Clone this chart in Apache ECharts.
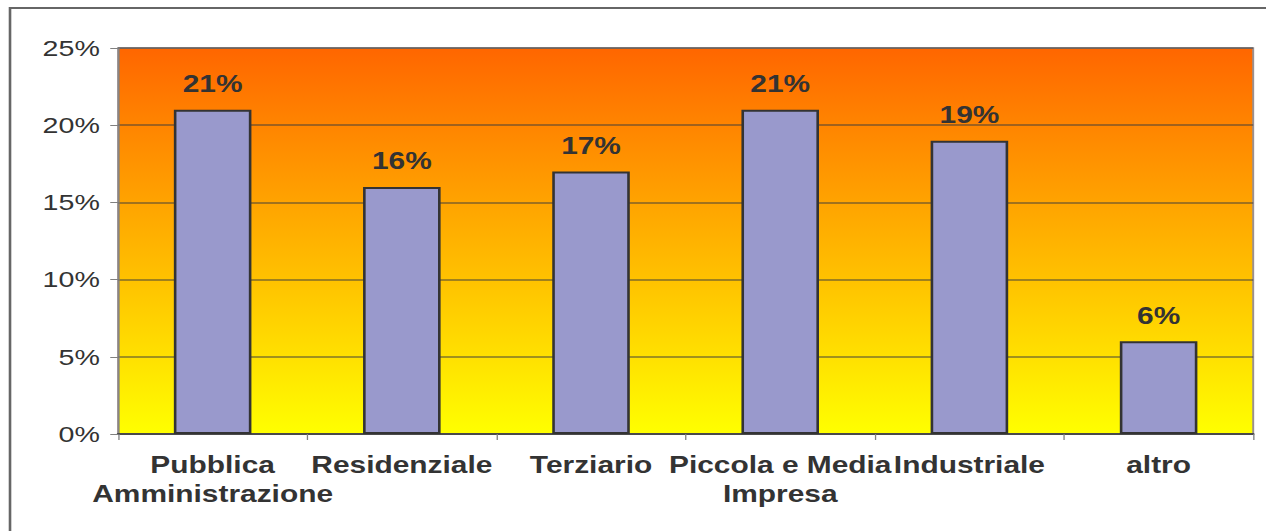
<!DOCTYPE html>
<html>
<head>
<meta charset="utf-8">
<script src="https://cdn.jsdelivr.net/npm/echarts@6/dist/echarts.min.js"></script>
<style>
  html, body { margin: 0; padding: 0; background: #fff; overflow: hidden; }
  /* the chart is laid out narrow and widened horizontally, giving the broad lettering */
  #chart { width: 974px; height: 531px; transform: scaleX(1.3); transform-origin: 0 0; }
</style>
</head>
<body>
<div id="chart"></div>
<script>
// Share by sector (%)
const categories = ['Pubblica\nAmministrazione', 'Residenziale', 'Terziario', 'Piccola e Media\nImpresa', 'Industriale', 'altro'];
const shares = [21, 16, 17, 21, 19, 6];
const yTicks = { min: 0, max: 25, step: 5 };

const chart = echarts.init(document.getElementById('chart'), null, { renderer: 'svg' });

chart.setOption({
  backgroundColor: '#ffffff',
  animation: false,
  graphic: [{
    type: 'rect',
    shape: { x: 7.7, y: 8, width: 2000, height: 2000 },
    style: { fill: 'none', stroke: '#666666', lineWidth: 2 },
    silent: true
  }],
  grid: {
    left: 90.8, right: 10, top: 48, bottom: 97,
    show: true,
    borderColor: '#9a9090',
    borderWidth: 1.5,
    backgroundColor: new echarts.graphic.LinearGradient(0, 0, 0, 1, [
      { offset: 0, color: '#ff6600' },
      { offset: 1, color: '#ffff00' }
    ])
  },
  xAxis: {
    type: 'category',
    data: categories,
    axisLine: { lineStyle: { color: '#4a4a4a', width: 2 } },
    axisTick: { show: true, length: 6, lineStyle: { color: '#808080', width: 1 } },
    axisLabel: {
      interval: 0,
      margin: 17,
      fontFamily: 'Liberation Sans',
      fontWeight: 'bold',
      fontSize: 23,
      lineHeight: 29,
      color: '#333333'
    }
  },
  yAxis: {
    type: 'value',
    min: yTicks.min,
    max: yTicks.max,
    interval: yTicks.step,
    axisLine: { show: true, lineStyle: { color: '#808080', width: 1 } },
    axisTick: { show: true, length: 6, lineStyle: { color: '#808080' } },
    axisLabel: {
      margin: 14,
      formatter: '{value}%',
      fontFamily: 'Liberation Sans',
      fontSize: 22,
      color: '#333333'
    },
    splitLine: { lineStyle: { color: 'rgba(60,60,60,0.65)', width: 1.5 } }
  },
  series: [{
    type: 'bar',
    data: shares,
    barWidth: '41%',
    itemStyle: { color: '#9999cc', borderColor: '#333333', borderWidth: 2 },
    label: {
      show: true,
      position: 'top',
      distance: 14,
      formatter: '{c}%',
      fontFamily: 'Liberation Sans',
      fontWeight: 'bold',
      fontSize: 23,
      color: '#333333'
    }
  }]
});
</script>
</body>
</html>
